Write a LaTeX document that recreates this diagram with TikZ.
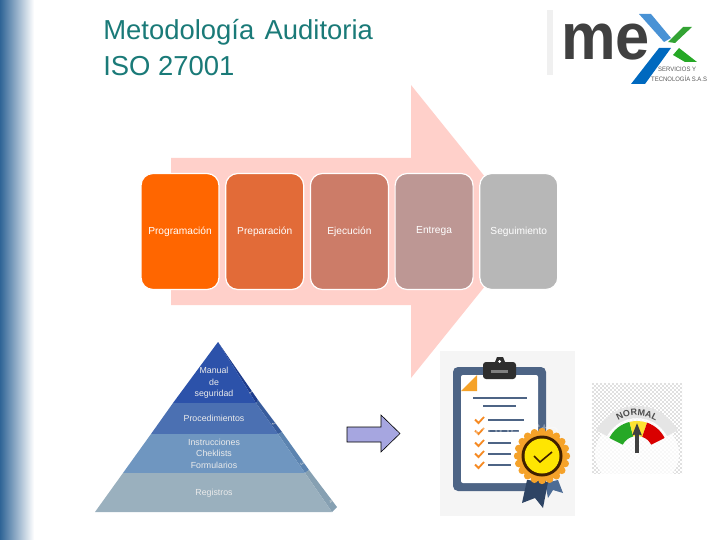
\documentclass[tikz,border=0pt]{standalone}
\usepackage{fontspec}
\setmainfont{Liberation Sans}
\usepackage{xcolor}
\usetikzlibrary{arrows.meta,positioning,decorations.text}
\definecolor{titleteal}{HTML}{1A7A78}
\definecolor{sideblue}{HTML}{2F6496}
\definecolor{bigarrow}{HTML}{FFD0CA}
\definecolor{boardblue}{HTML}{4D6485}
\definecolor{sealorange}{HTML}{F5A229}
\definecolor{stagea}{RGB}{255,102,0}
\definecolor{stageb}{RGB}{226,107,56}
\definecolor{stagec}{RGB}{204,124,104}
\definecolor{staged}{RGB}{189,151,148}
\definecolor{stagee}{RGB}{183,183,183}
\definecolor{levela}{RGB}{44,82,170}
\definecolor{levelb}{RGB}{75,112,178}
\definecolor{levelc}{RGB}{111,150,192}
\definecolor{leveld}{RGB}{154,176,190}
\definecolor{sidea}{RGB}{30,60,140}
\definecolor{sideb}{RGB}{56,92,156}
\definecolor{sidec}{RGB}{92,132,176}
\definecolor{sided}{RGB}{134,160,178}
\definecolor{goarrow}{RGB}{166,166,224}
\definecolor{ribbona}{RGB}{77,108,149}
\definecolor{ribbonb}{RGB}{46,68,100}
\tikzset{
  stage/.style={rectangle, rounded corners=12pt, draw=white, line width=1.2pt,
    minimum width=78pt, minimum height=116pt, inner sep=0pt,
    font=\fontsize{10.2}{11}\selectfont, text=white},
  level/.style={align=center, text=white!92!black, inner sep=0pt,
    font=\fontsize{8.8}{11.5}\selectfont},
  levelnum/.style={text=white!85!black, inner sep=0pt, rotate=-55,
    font=\fontsize{5}{5}\selectfont},
  listline/.style={draw=boardblue, line width=2.4pt},
  tick/.style={draw=sealorange!85!red, line width=1.8pt},
}
\begin{document}
\begin{tikzpicture}[x=1pt,y=-1pt,node distance=5.5pt]
  \useasboundingbox (0,0) rectangle (720,540);
  % side band
  \shade[left color=sideblue, right color=white] (0,0) rectangle (34,540);
  \node[anchor=north west, align=left, inner sep=0pt, text=titleteal,
    font=\fontsize{19.6}{25.2}\selectfont, scale=1.4] (title) at (103,19.5)
    {Metodología\hspace{2pt} Auditoria\\ISO 27001};
  % logo
  \fill[black!6] (547,10) rectangle (553,75);
  \node[anchor=base west, inner sep=0pt, text=black!75, xscale=.93,
    font=\fontsize{66}{66}\selectfont\bfseries] (logome) at (561,60) {me};
  \fill[cyan!60!blue!75] (639,14) -- (651,14) -- (671,38) -- (664,42) -- cycle;
  \fill[blue!45!cyan!75!black] (631,84) -- (645,84) -- (671,48) -- (659,48) -- cycle;
  \fill[green!55!black!80] (668,42) -- (683,27) -- (692,27) -- (675,43) -- cycle;
  \fill[green!60!black!85] (673,55) -- (679,48) -- (697,62) -- (685,62) -- cycle;
  \node[anchor=west, inner sep=0pt, text=black!65, xscale=.93,
    font=\fontsize{6.4}{7}\selectfont] (logotop) at (658,69) {SERVICIOS Y};
  \node[anchor=west, inner sep=0pt, text=black!65, xscale=.93,
    font=\fontsize{6.4}{7}\selectfont] (logobot) at (651,78.5) {TECNOLOGÍA S.A.S};
  % big arrow and stages
  \fill[bigarrow] (171,158) -- (411,158) -- (411,85) -- (529,231.5)
    -- (411,378) -- (411,305) -- (171,305) -- cycle;
  \node[stage, fill=stagea] (prog) at (180,231.5) {Programación};
  \node[stage, fill=stageb, right=of prog] (prep) {Preparación};
  \node[stage, fill=stagec, right=of prep] (ejec) {Ejecución};
  \node[stage, fill=staged, right=of ejec] (entr) {Entrega};
  \node[stage, fill=stagee, right=of entr] (segu) {Seguimiento};
  % pyramid
  \fill[sidea] (218,342) -- (258,400) -- (256,403) -- cycle;
  \fill[sideb] (258,400) -- (282,432) -- (278,434) -- (256,403) -- cycle;
  \fill[sidec] (282,432) -- (309,470) -- (305,473) -- (278,434) -- cycle;
  \fill[sided] (309,470) -- (337,507) -- (332,512) -- (305,473) -- cycle;
  \fill[levela] (218,342) -- (256,403) -- (173,403) -- cycle;
  \fill[levelb] (173,403) -- (256,403) -- (278,434) -- (151,434) -- cycle;
  \fill[levelc] (151,434) -- (278,434) -- (305,473) -- (123,473) -- cycle;
  \fill[leveld] (123,473) -- (305,473) -- (332,512) -- (95,512) -- cycle;
  \node[level] (manual) at (214,383) {Manual\\de\\seguridad};
  \node[level] (proce) at (214,418) {Procedimientos};
  \node[level] (instr) at (214,453.5) {Instrucciones\\Cheklists\\Formularios};
  \node[level] (regis) at (214,493) {Registros};
  \node[levelnum] (numa) at (251,393) {1};
  \node[levelnum] (numb) at (274,424) {2};
  \node[levelnum] (numc) at (302,464) {3};
  \node[levelnum] (numd) at (331,502) {4};
  % block arrow
  \draw[black, line width=.6pt, fill=goarrow]
    (347,427) -- (381,427) -- (381,415) -- (400,433.5) -- (381,452) -- (381,442) -- (347,442) -- cycle;
  % clipboard
  \fill[orange!4!black!4] (440,351) rectangle (575,516);
  \fill[boardblue, rounded corners=5pt] (453,367) rectangle (546,491);
  \fill[white, rounded corners=2pt] (461,375) rectangle (538,483);
  \fill[sealorange] (461,391) -- (477,375) -- (477,391) -- cycle;
  \fill[black!82, rounded corners=3pt] (483,362) rectangle (516,379);
  \fill[black!82] (495,362) -- (497,357) -- (503,357) -- (505,362) -- cycle;
  \fill[white] (499.5,361.5) circle (1.5pt);
  \fill[black!50] (491,370) rectangle (508,372.5);
  \draw[listline] (473,398) -- (527,398);
  \draw[listline] (483,406) -- (516,406);
  \foreach \yy/\xe in {420/524,431/519,443/511,454/511,465/511}{
    \draw[listline] (488,\yy) -- (\xe,\yy);
    \draw[tick] (475,\yy-.5) -- (478.5,\yy+3) -- (484,\yy-3);
  }
  \node[inner sep=0pt, text=white, opacity=.35, font=\fontsize{21}{21}\selectfont] (stock) at (510,431) {Adobe Sto};
  % ribbons and seal
  \fill[ribbona] (545,483) -- (558,480) -- (563,493) -- (553,490) -- (548,498) -- cycle;
  \fill[ribbonb] (527,480) -- (548,482) -- (543,508) -- (535,498) -- (522,503) -- cycle;
  \foreach \a in {0,18,...,342}{
    \fill[sealorange] (542,456) ++(\a:24.5) circle (3.7pt);
  }
  \fill[sealorange] (542,456) circle (25pt);
  \fill[black!75!orange] (542,456) circle (20.5pt);
  \fill[yellow!88!orange] (542,456) circle (17.5pt);
  \draw[black!75!orange, line width=1.6pt] (534,456) -- (540,462) -- (552,452);
  % gauge
  \begin{scope}
    \clip (592,383) rectangle (682,473);
    \foreach \yy in {384,388,...,474}{
      \draw[black!12, line width=2pt, dash pattern=on 2pt off 2pt] (592,\yy) -- (682,\yy);
      \draw[black!12, line width=2pt, dash pattern=on 2pt off 2pt] (594,\yy+2) -- (684,\yy+2);
    }
  \end{scope}
  \begin{scope}[shift={(637,452)},y=1pt]
    \fill[white, opacity=.8] (0,-2) ellipse (42pt and 36pt);
    \fill[black!10] (152:46pt) arc[start angle=152, end angle=28, radius=46pt]
      -- (28:34pt) arc[start angle=28, end angle=152, radius=34pt] -- cycle;
    \fill[green!60!black!85] (153:31pt) arc[start angle=153, end angle=104, radius=31pt]
      -- (104:16pt) arc[start angle=104, end angle=153, radius=16pt] -- cycle;
    \fill[yellow!80!orange!80] (104:31pt) arc[start angle=104, end angle=71, radius=31pt]
      -- (71:16pt) arc[start angle=71, end angle=104, radius=16pt] -- cycle;
    \fill[red!85!black] (71:31pt) arc[start angle=71, end angle=27, radius=31pt]
      -- (27:16pt) arc[start angle=27, end angle=71, radius=16pt] -- cycle;
    \draw[black!75, line width=3.5pt, -{Stealth[length=12pt,width=9pt,inset=1pt]}] (0,-1) -- (0,29);
    \path[postaction={decorate}, decoration={text along path, text align=center,
      text={|\fontsize{9}{9}\selectfont\bfseries\color{black!70}|NORMAL}}]
      (120:36.5pt) arc[start angle=120, end angle=60, radius=36.5pt];
  \end{scope}
\end{tikzpicture}
\end{document}
